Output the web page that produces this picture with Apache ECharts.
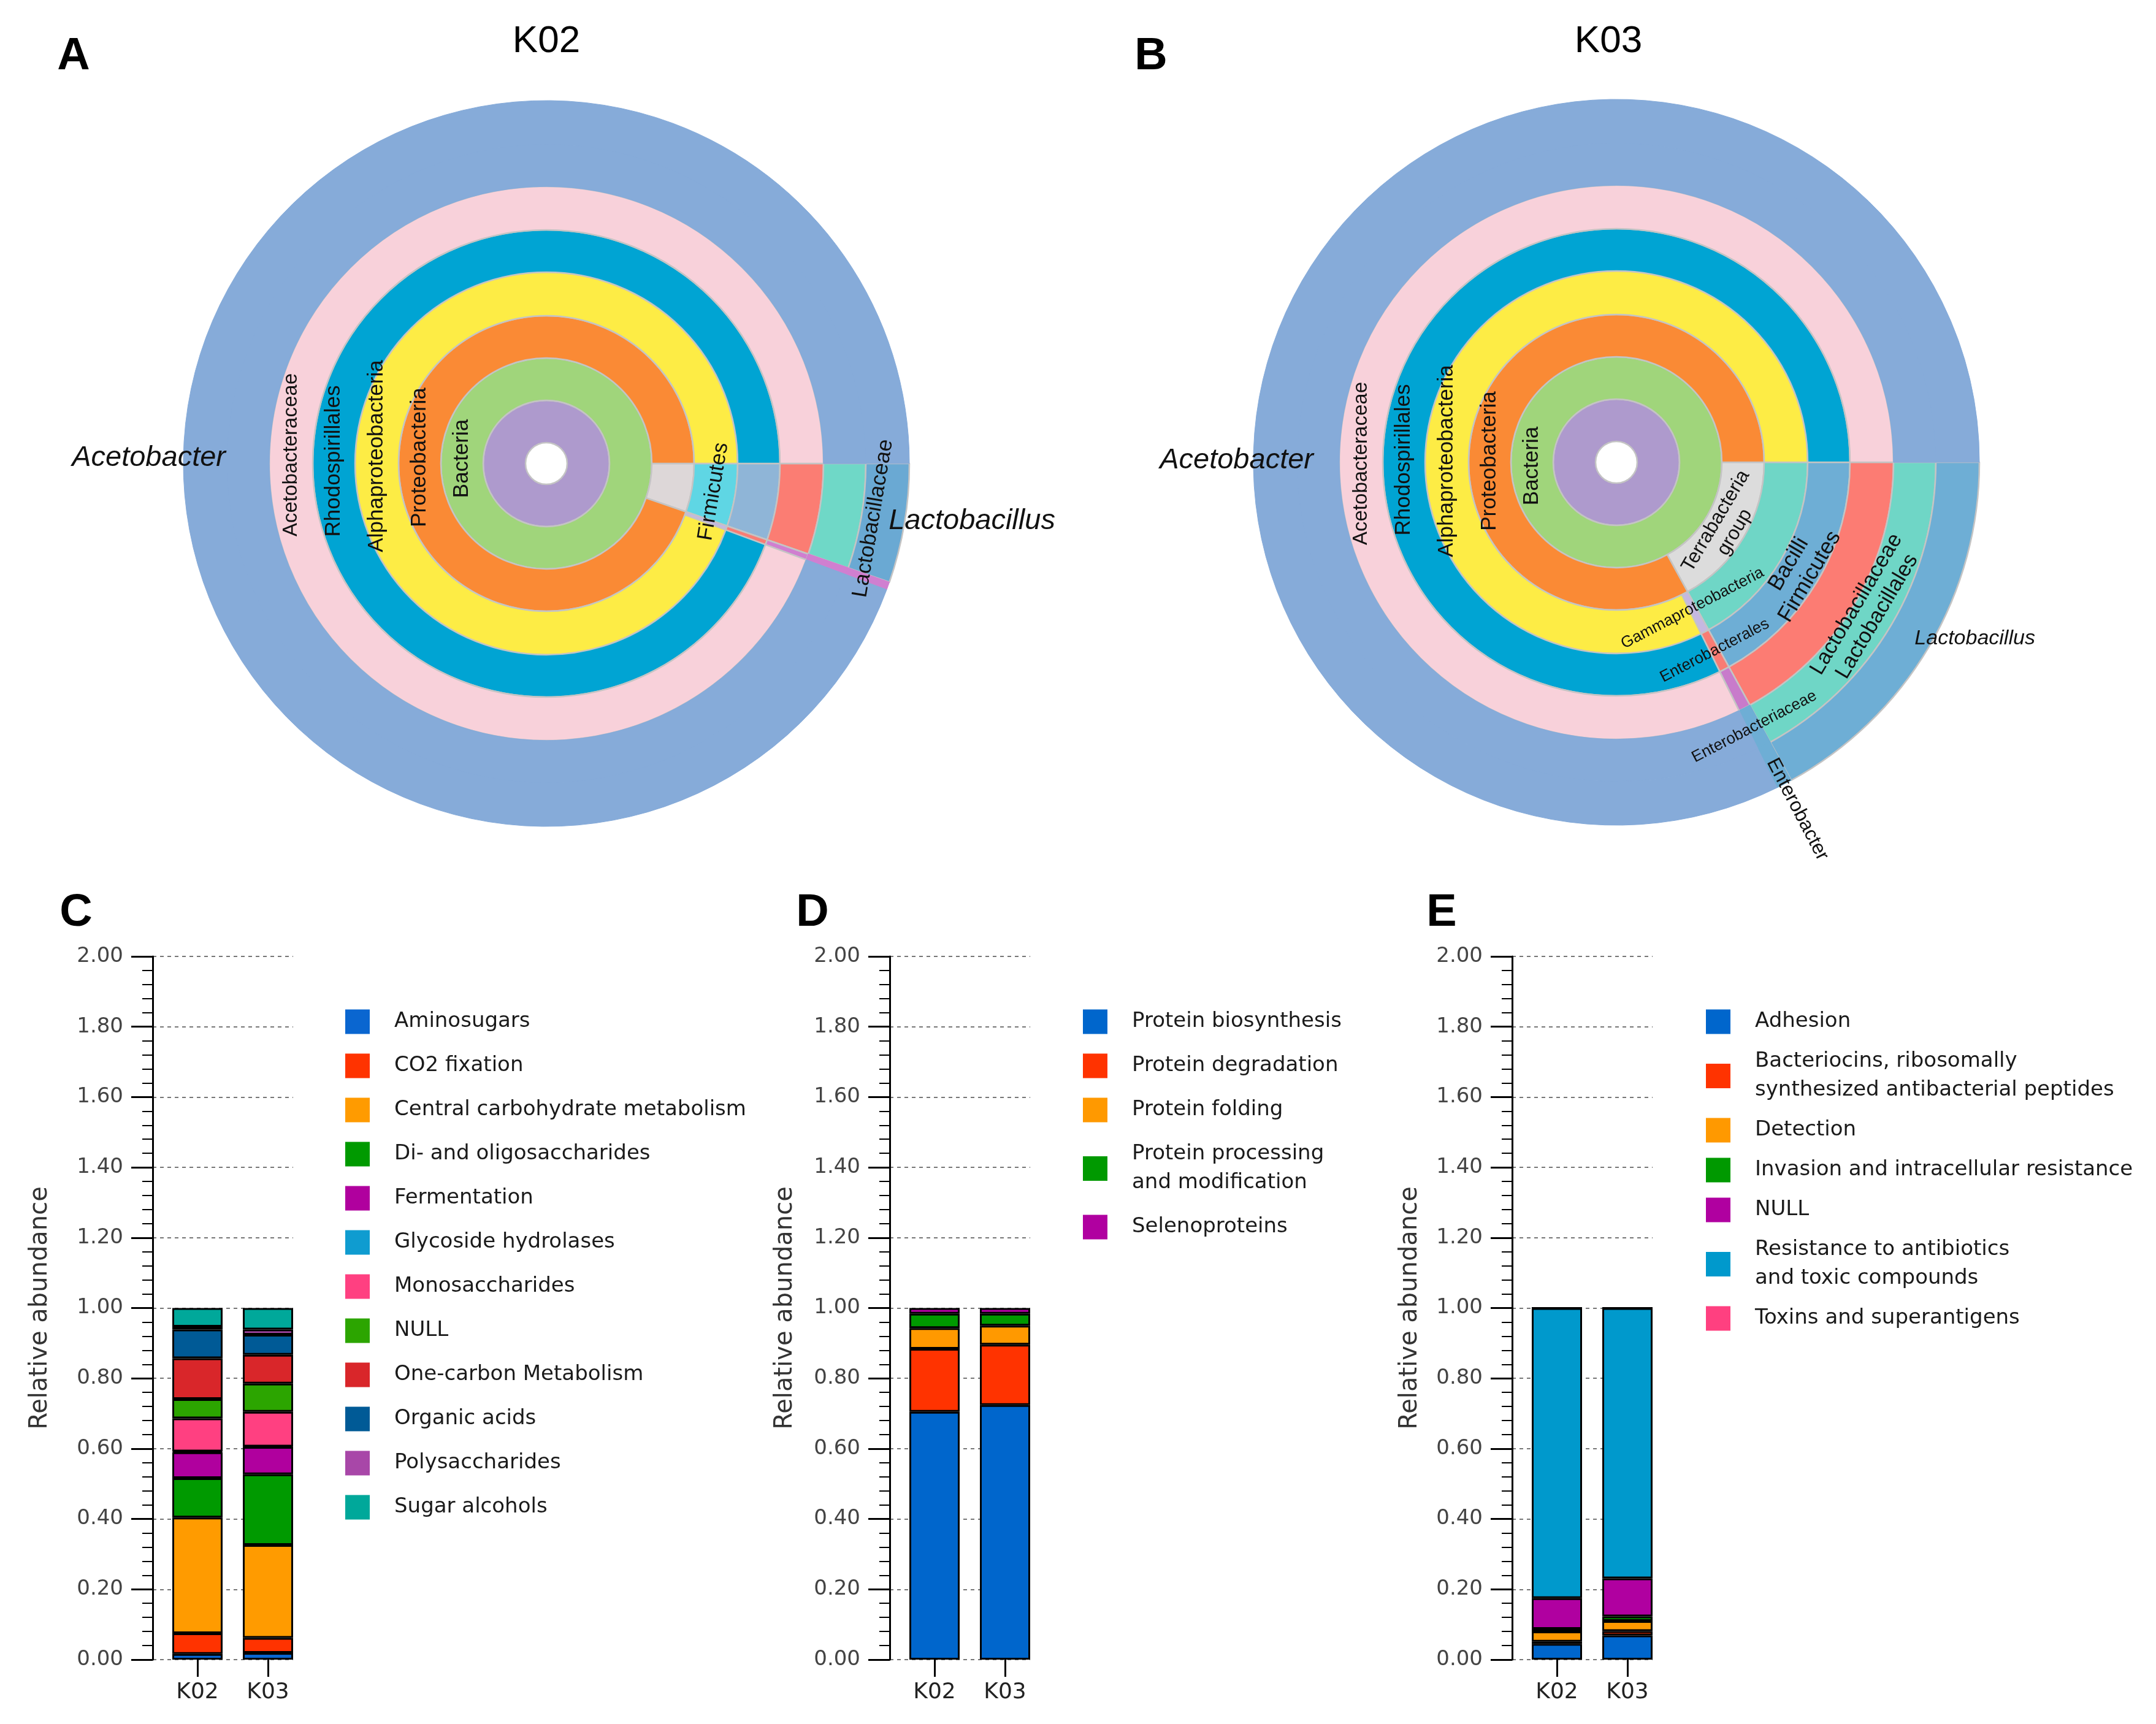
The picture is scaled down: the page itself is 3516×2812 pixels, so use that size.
<!DOCTYPE html>
<html><head><meta charset="utf-8">
<script src="https://cdn.jsdelivr.net/npm/echarts@6/dist/echarts.min.js"></script>
<style>html,body{margin:0;padding:0;background:#fff}#main{width:3516px;height:2812px}</style>
</head><body><div id="main"></div>
<script>
// ================= Sunburst (taxonomy) data =================
const taxRootName = 'cellular organisms';
const lineageLactobacillus = ['Bacteria','Terrabacteria group','Firmicutes','Bacilli','Lactobacillales','Lactobacillaceae','Lactobacillus'];
const lineageEnterobacter = ['Bacteria','Proteobacteria','Gammaproteobacteria','Enterobacterales','Enterobacteriaceae','Enterobacter'];
const lineageAcetobacter = ['Bacteria','Proteobacteria','Alphaproteobacteria','Rhodospirillales','Acetobacteraceae','Acetobacter'];
const genusLineages = [lineageLactobacillus, lineageEnterobacter, lineageAcetobacter];
const k02GenusPercent = [5.3, 0.35, 94.35];
const k03GenusPercent = [17.0, 0.7, 82.3];

// ================= Stacked bar data =================
const samples = ['K02', 'K03'];
const cCategories = ['Aminosugars','CO2 fixation','Central carbohydrate metabolism','Di- and oligosaccharides','Fermentation','Glycoside hydrolases','Monosaccharides','NULL','One-carbon Metabolism','Organic acids','Polysaccharides','Sugar alcohols'];
const cK02 = [0.016, 0.059, 0.329, 0.112, 0.074, 0.002, 0.094, 0.055, 0.116, 0.082, 0.008, 0.053];
const cK03 = [0.019, 0.043, 0.264, 0.201, 0.078, 0.001, 0.099, 0.080, 0.082, 0.057, 0.015, 0.061];
const cColors = ['#0a66d0','#ff3300','#ff9b00','#009a00','#b0009e','#0f9cd0','#ff4081','#2ca500','#d9262a','#005a96','#a847a8','#00a89a'];

const dCategories = ['Protein biosynthesis','Protein degradation','Protein folding','Protein processing and modification','Selenoproteins'];
const dK02 = [0.705, 0.179, 0.059, 0.041, 0.016];
const dK03 = [0.724, 0.172, 0.054, 0.034, 0.016];
const dColors = ['#0066cc','#ff3300','#ff9900','#009900','#b000a0'];

const eCategories = ['Adhesion','Bacteriocins, ribosomally synthesized antibacterial peptides','Detection','Invasion and intracellular resistance','NULL','Resistance to antibiotics and toxic compounds','Toxins and superantigens'];
const eK02 = [0.045, 0.006, 0.029, 0.007, 0.088, 0.825, 0.0];
const eK03 = [0.069, 0.012, 0.029, 0.013, 0.108, 0.769, 0.0];
const eColors = ['#0066cc','#ff3300','#ff9900','#009900','#b000a0','#0099cc','#ff4080'];

const legendBreaks = {
  'Protein processing and modification': 'Protein processing\nand modification',
  'Bacteriocins, ribosomally synthesized antibacterial peptides': 'Bacteriocins, ribosomally\nsynthesized antibacterial peptides',
  'Resistance to antibiotics and toxic compounds': 'Resistance to antibiotics\nand toxic compounds'
};

// ================= helpers =================
const SUN_FONT = 'Liberation Sans';
const BAR_FONT = 'DejaVu Sans';
const BORDER = '#c4c4c4';
const ringRadii = [34, 103, 172, 241, 312, 381, 452, 521, 592];
const sunLevels = [{}];
for (let i = 0; i < 8; i++) sunLevels.push({r0: ringRadii[i], r: ringRadii[i + 1]});

// label text-box shift (screen sx, sy) for a label rotated by rotDeg, block height h
function shiftStyle(sx, sy, rotDeg, h, align) {
  const t = rotDeg * Math.PI / 180;
  const lx = sx * Math.cos(t) - sy * Math.sin(t);
  const ly = sx * Math.sin(t) + sy * Math.cos(t);
  let pl = 0, pr = 0;
  if (align === 'center') { if (lx > 0) pl = 2 * lx; else pr = -2 * lx; }
  else if (align === 'left') pl = lx;
  else if (align === 'right') pr = -lx;
  return {verticalAlign: 'top', padding: [ly - h / 2, pr, 0, pl]};
}

function makeLabel(n, spec) {
  const m = (n.start + n.end) / 2 * 3.6;
  const mr = m * Math.PI / 180;
  const r0 = ringRadii[n.depth - 1], r1 = ringRadii[n.depth], rm = (r0 + r1) / 2;
  const size = spec.size || 35;
  const lh = Math.round(size * 1.12);
  const h = lh * (spec.text || n.name).split('\n').length;
  const lab = {show: true, fontFamily: SUN_FONT, color: '#111', fontSize: size,
    fontStyle: spec.italic ? 'italic' : 'normal', lineHeight: lh};
  if (spec.text) lab.formatter = spec.text;
  if (spec.kind === 'left') {
    const sx = -rm - rm * Math.cos(mr), sy = (spec.dy || 0) - rm * Math.sin(mr);
    Object.assign(lab, {rotate: 90, align: 'center'}, shiftStyle(sx, sy, 90, h, 'center'));
  } else if (spec.kind === 'tan') {
    let rot = 90 - m; while (rot > 90) rot -= 180; while (rot <= -90) rot += 180;
    const dr = spec.dr || 0;
    Object.assign(lab, {rotate: rot, align: 'center'});
    if (dr) Object.assign(lab, shiftStyle(dr * Math.cos(mr), dr * Math.sin(mr), rot, h, 'center'));
  } else if (spec.kind === 'radial') {
    Object.assign(lab, {rotate: 'radial', align: 'left', distance: spec.r - r0});
  } else if (spec.kind === 'horizLeft') {
    const ra = spec.x / Math.abs(Math.cos(mr));
    const sy = (spec.dy || 0) - ra * Math.sin(mr);
    Object.assign(lab, {rotate: 0, align: 'left', distance: ra - r0}, shiftStyle(0, sy, 0, h, 'right'));
  } else if (spec.kind === 'horizRight') {
    Object.assign(lab, {rotate: 0, align: 'left', distance: spec.r - r0});
  }
  return lab;
}

function buildTree(percents, colors, labels) {
  const root = {name: taxRootName, children: [], start: 0, end: 0, depth: 1};
  let acc = 0;
  genusLineages.forEach((lin, gi) => {
    const v = percents[gi], s = acc, e = acc + v;
    acc = e; root.end = e;
    let parent = root;
    lin.forEach((name, li) => {
      let node = parent.children.find(c => c.name === name);
      if (!node) { node = {name, children: [], start: s, end: e, depth: li + 2}; parent.children.push(node); }
      node.end = e;
      parent = node;
    });
    parent.leafValue = v;
  });
  function conv(n) {
    const color = colors[n.name];
    const o = {name: n.name, itemStyle: {color, borderColor: BORDER, borderWidth: 2.5}};
    if (n.children.length) o.children = n.children.map(conv);
    else if (n.depth < 8) {
      // leaf reaches the outer edge (Krona style): extend it with an unlabeled ring of the same colour
      o.itemStyle.borderColor = color; o.itemStyle.borderWidth = 1.5;
      o.children = [{name: '', value: n.leafValue, itemStyle: {color, borderColor: color, borderWidth: 1}, label: {show: false}}];
    } else o.value = n.leafValue;
    o.label = labels[n.name] ? makeLabel(n, labels[n.name]) : {show: false};
    return o;
  }
  return [conv(root)];
}

const baseTaxColors = {
  'cellular organisms': '#ae9acd', 'Bacteria': '#a0d57b', 'Proteobacteria': '#fa8a35',
  'Alphaproteobacteria': '#fdec45', 'Rhodospirillales': '#00a4d3', 'Acetobacteraceae': '#f8d1da',
  'Acetobacter': '#86abd9', 'Gammaproteobacteria': '#c5b8e0', 'Enterobacterales': '#f97c74'
};
const k02TaxColors = Object.assign({}, baseTaxColors, {
  'Terrabacteria group': '#ddd7d8', 'Firmicutes': '#5fd6e4', 'Bacilli': '#8fb5d7', 'Lactobacillales': '#fb7d73',
  'Lactobacillaceae': '#6fd8c7', 'Lactobacillus': '#6aa9d3', 'Enterobacteriaceae': '#d07fd0', 'Enterobacter': '#d07fd0'
});
const k03TaxColors = Object.assign({}, baseTaxColors, {
  'Terrabacteria group': '#dcdcdc', 'Firmicutes': '#6fd6c6', 'Bacilli': '#6eaed5', 'Lactobacillales': '#fc7c73',
  'Lactobacillaceae': '#6fd6c6', 'Lactobacillus': '#6eaed5', 'Enterobacteriaceae': '#c87bcb', 'Enterobacter': '#6eaed5'
});

const k02Labels = {
  'Bacteria': {kind: 'left', dy: -8}, 'Proteobacteria': {kind: 'left', dy: -10},
  'Alphaproteobacteria': {kind: 'left', dy: -12}, 'Rhodospirillales': {kind: 'left', dy: -4},
  'Acetobacteraceae': {kind: 'left', dy: -14, size: 33},
  'Acetobacter': {kind: 'horizLeft', x: 523, dy: -9, size: 47, italic: true},
  'Firmicutes': {kind: 'tan'}, 'Lactobacillaceae': {kind: 'tan', dr: 54},
  'Lactobacillus': {kind: 'horizRight', r: 566, size: 47, italic: true}
};
const k03Labels = {
  'Bacteria': {kind: 'left', dy: 6}, 'Proteobacteria': {kind: 'left', dy: -2},
  'Alphaproteobacteria': {kind: 'left', dy: -2}, 'Rhodospirillales': {kind: 'left', dy: -4},
  'Acetobacteraceae': {kind: 'left', dy: 2, size: 33},
  'Acetobacter': {kind: 'horizLeft', x: 494, dy: -3, size: 47, italic: true},
  'Terrabacteria group': {kind: 'tan', text: 'Terrabacteria\ngroup', size: 32},
  'Bacilli': {kind: 'tan', text: 'Bacilli\nFirmicutes', size: 36},
  'Lactobacillaceae': {kind: 'tan', text: 'Lactobacillaceae\nLactobacillales', size: 35, dr: -12},
  'Lactobacillus': {kind: 'horizRight', r: 565, size: 34, italic: true},
  'Gammaproteobacteria': {kind: 'tan', size: 26, dr: -8}, 'Enterobacterales': {kind: 'tan', size: 26},
  'Enterobacteriaceae': {kind: 'tan', size: 26, dr: 70},
  'Enterobacter': {kind: 'radial', r: 547, size: 32}
};

function sunSeries(center, data) {
  return {
    type: 'sunburst', center, radius: [0, 592], startAngle: 0, clockwise: true, sort: null,
    nodeClick: false, levels: sunLevels, data, label: {show: false},
    emphasis: {disabled: true}
  };
}

// ================= bar panels =================
const panels = [
  {names: cCategories, colors: cColors, v: [cK02, cK03], axisX: 249, legendLeft: 558, legendGap: 25, nameGap: 163},
  {names: dCategories, colors: dColors, v: [dK02, dK03], axisX: 1451, legendLeft: 1761, legendGap: 25, nameGap: 150},
  {names: eCategories, colors: eColors, v: [eK02, eK03], axisX: 2466, legendLeft: 2777, legendGap: 18, nameGap: 146}
];
const TOP = 1560, H = 1147;
const grids = [], xAxes = [], yAxes = [], series = [], legends = [];
panels.forEach((p, pi) => {
  const g0 = pi * 2, g1 = pi * 2 + 1;
  grids.push({left: p.axisX, top: TOP, width: 229, height: H});
  grids.push({left: p.axisX + 15.5, top: TOP, width: 230, height: H});
  xAxes.push({gridIndex: g0, type: 'value', min: 0, max: 1, show: false});
  xAxes.push({gridIndex: g1, type: 'category', data: samples,
    axisLine: {show: false}, axisTick: {show: true, alignWithLabel: true, length: 28, lineStyle: {color: '#000', width: 3}},
    axisLabel: {margin: 36, fontSize: 36, color: '#222', fontFamily: BAR_FONT}});
  yAxes.push({gridIndex: g0, type: 'value', min: 0, max: 2, interval: 0.2,
    axisLine: {show: true, lineStyle: {color: '#000', width: 3}},
    axisTick: {show: true, length: 35, lineStyle: {color: '#000', width: 3}},
    minorTick: {show: true, splitNumber: 5, length: 17, lineStyle: {color: '#000', width: 2}},
    axisLabel: {formatter: v => v.toFixed(2), margin: 48, fontSize: 34, color: '#444', fontFamily: BAR_FONT},
    splitLine: {show: true, lineStyle: {type: [6, 6], color: '#777', width: 2}},
    name: 'Relative abundance', nameLocation: 'middle', nameGap: p.nameGap,
    nameTextStyle: {fontSize: 40, color: '#333', fontFamily: BAR_FONT}});
  yAxes.push({gridIndex: g1, type: 'value', min: 0, max: 2, show: false});
  p.names.forEach((name, i) => {
    series.push({type: 'bar', name, xAxisIndex: g1, yAxisIndex: g1, stack: 'panel' + pi, barWidth: 82,
      data: [p.v[0][i], p.v[1][i]],
      itemStyle: {color: p.colors[i], borderColor: '#000', borderWidth: 3}});
  });
  legends.push({orient: 'vertical', left: p.legendLeft, top: 1638, itemWidth: 40, itemHeight: 40, itemGap: p.legendGap,
    icon: 'rect', selectedMode: false, itemStyle: {borderWidth: 0},
    textStyle: {fontSize: 34, lineHeight: 47, color: '#1a1a1a', fontFamily: BAR_FONT, padding: [0, 0, 0, 35]},
    formatter: n => legendBreaks[n] || n,
    data: p.names.map((n, i) => ({name: n, itemStyle: {color: p.colors[i], borderWidth: 0}}))});
});

series.push(sunSeries([891, 756], buildTree(k02GenusPercent, k02TaxColors, k02Labels)));
series.push(sunSeries([2636, 754], buildTree(k03GenusPercent, k03TaxColors, k03Labels)));

const letterStyle = {fontSize: 74, fontWeight: 'bold', fontFamily: SUN_FONT, fill: '#000', textAlign: 'center', textVerticalAlign: 'middle'};
const titleStyle = {fontSize: 62, fontFamily: SUN_FONT, fill: '#000', textAlign: 'center', textVerticalAlign: 'middle'};
const graphics = [
  {type: 'text', x: 120, y: 93, style: Object.assign({text: 'A'}, letterStyle)},
  {type: 'text', x: 1877, y: 93, style: Object.assign({text: 'B'}, letterStyle)},
  {type: 'text', x: 124, y: 1490, style: Object.assign({text: 'C'}, letterStyle)},
  {type: 'text', x: 1325, y: 1490, style: Object.assign({text: 'D'}, letterStyle)},
  {type: 'text', x: 2351, y: 1490, style: Object.assign({text: 'E'}, letterStyle)},
  {type: 'text', x: 891, y: 68, style: Object.assign({text: 'K02'}, titleStyle)},
  {type: 'text', x: 2623, y: 68, style: Object.assign({text: 'K03'}, titleStyle)}
];

const chart = echarts.init(document.getElementById('main'), null, {renderer: 'canvas'});
chart.setOption({
  backgroundColor: '#ffffff', animation: false,
  grid: grids, xAxis: xAxes, yAxis: yAxes, legend: legends, series, graphic: graphics
});
</script></body></html>
